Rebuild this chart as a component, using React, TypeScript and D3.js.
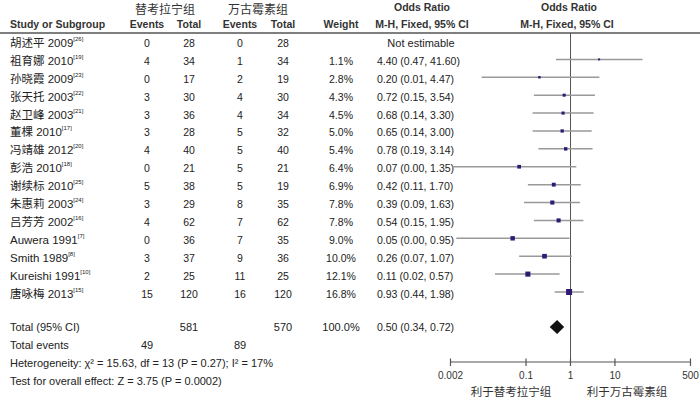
import * as d3 from "d3";

// study rows
const studies = [
  "胡述平 2009", "祖育娜 2010", "孙晓霞 2009", "张天托 2003", "赵卫峰 2003",
  "董棵 2010", "冯靖雄 2012", "彭浩 2010", "谢续标 2010", "朱惠莉 2003",
  "吕芳芳 2002", "Auwera 1991", "Smith 1989", "Kureishi 1991", "唐咏梅 2013",
];
const refs = ["26", "19", "23", "22", "21", "17", "20", "18", "25", "24", "16", "7", "8", "10", "15"];
const teicEvents = [0, 4, 0, 3, 3, 3, 4, 0, 5, 3, 4, 0, 3, 2, 15];
const teicTotal = [28, 34, 17, 30, 36, 28, 40, 21, 38, 29, 62, 36, 37, 25, 120];
const vancEvents = [0, 1, 2, 4, 4, 5, 5, 5, 5, 8, 7, 7, 9, 11, 16];
const vancTotal = [28, 34, 19, 30, 34, 32, 40, 21, 19, 35, 62, 35, 36, 25, 120];
const weights = [null, 1.1, 2.8, 4.3, 4.5, 5.0, 5.4, 6.4, 6.9, 7.8, 7.8, 9.0, 10.0, 12.1, 16.8];
const oddsRatio = [null, 4.4, 0.2, 0.72, 0.68, 0.65, 0.78, 0.07, 0.42, 0.39, 0.54, 0.05, 0.26, 0.11, 0.93];
const ciLow = [null, 0.47, 0.01, 0.15, 0.14, 0.14, 0.19, 0.0022, 0.11, 0.09, 0.15, 0.0027, 0.07, 0.02, 0.44];
const ciHigh = [null, 41.6, 4.47, 3.54, 3.3, 3.0, 3.14, 1.35, 1.7, 1.63, 1.95, 0.95, 1.07, 0.57, 1.98];

// pooled result
const pooled = { or: 0.5, lo: 0.34, hi: 0.72, weight: 100 };
const heterogeneity = "Heterogeneity: χ² = 15.63, df = 13 (P = 0.27); I² = 17%";
const overallEffect = "Test for overall effect: Z = 3.75 (P = 0.0002)";
const axisTicks = [0.002, 0.1, 1, 10, 500];
const favourLeft = "利于替考拉宁组";
const favourRight = "利于万古霉素组";

const W = 700;
const H = 399;
const bodyFont = "'Liberation Sans', 'Noto Sans CJK SC', sans-serif";
const headFont = "'Liberation Sans', 'Noto Sans CJK SC', sans-serif";
const cjkFont = "'Noto Sans CJK SC', sans-serif";
const txt = "#222";

const fmt2 = (v: number) => v.toFixed(2);
const ciText = (o: number, l: number, h: number) => `${fmt2(o)} (${fmt2(l)}, ${fmt2(h)})`;

export default function App() {
  const x = d3.scaleLog().domain([0.002, 500]).range([450.5, 690.5]);
  const y = d3.scaleLinear().domain([0, studies.length - 1]).range([41.5, 292]);
  const size = d3.scaleSqrt().domain([0, 16.8]).range([0, 6]);

  const totalY = 327;
  const eventsY = 345;
  const hetY = 363;
  const testY = 381;
  const axisY = 362;

  const col = { ev1: 147, tot1: 189, ev2: 240, tot2: 283, wt: 341, ci: 377, ciMid: 421 };

  const diamond = [
    [x(pooled.lo), totalY],
    [x(pooled.or), totalY - 7],
    [x(pooled.hi), totalY],
    [x(pooled.or), totalY + 7],
  ];

  return (
    <svg width={W} height={H} style={{ position: "absolute", left: 0, top: 0, background: "#fff" }}>
      {/* header */}
      <g fontFamily={cjkFont} fontSize={12} fill="#333" textAnchor="middle">
        <text x={165} y={8} dominantBaseline="central">替考拉宁组</text>
        <text x={258} y={8} dominantBaseline="central">万古霉素组</text>
      </g>
      <g fontFamily={headFont} fontSize={10.5} fontWeight="bold" fill="#333" textAnchor="middle">
        <text x={422} y={7} dominantBaseline="central">Odds Ratio</text>
        <text x={569} y={7} dominantBaseline="central">Odds Ratio</text>
        <text x={10} y={24} textAnchor="start" dominantBaseline="central">Study or Subgroup</text>
        <text x={col.ev1} y={24} dominantBaseline="central">Events</text>
        <text x={col.tot1} y={24} dominantBaseline="central">Total</text>
        <text x={col.ev2} y={24} dominantBaseline="central">Events</text>
        <text x={col.tot2} y={24} dominantBaseline="central">Total</text>
        <text x={col.wt} y={24} dominantBaseline="central">Weight</text>
        <text x={422} y={24} dominantBaseline="central">M-H, Fixed, 95% CI</text>
        <text x={567} y={24} dominantBaseline="central">M-H, Fixed, 95% CI</text>
      </g>
      <line x1={0} x2={W} y1={33} y2={33} stroke="#555" strokeWidth={1.3} />

      {/* null line */}
      <line x1={x(1)} x2={x(1)} y1={33} y2={axisY} stroke="#555" strokeWidth={1} />

      {/* study rows */}
      <g fontFamily={bodyFont} fontSize={10.5} fill={txt}>
        {studies.map((s, i) => {
          const ty = y(i) + 1.5;
          const w = weights[i];
          const o = oddsRatio[i];
          const l = ciLow[i];
          const h = ciHigh[i];
          return (
            <g key={s}>
              <text x={10} y={ty} dominantBaseline="central" fontSize={11.5}>
                {s}
                <tspan fontSize={6} dy={-4}>[{refs[i]}]</tspan>
              </text>
              <text x={col.ev1} y={ty} textAnchor="middle" dominantBaseline="central">{teicEvents[i]}</text>
              <text x={col.tot1} y={ty} textAnchor="middle" dominantBaseline="central">{teicTotal[i]}</text>
              <text x={col.ev2} y={ty} textAnchor="middle" dominantBaseline="central">{vancEvents[i]}</text>
              <text x={col.tot2} y={ty} textAnchor="middle" dominantBaseline="central">{vancTotal[i]}</text>
              {w !== null && (
                <text x={col.wt} y={ty} textAnchor="middle" dominantBaseline="central">{w.toFixed(1)}%</text>
              )}
              {o === null || l === null || h === null ? (
                <text x={col.ciMid} y={ty} textAnchor="middle" dominantBaseline="central" fontSize={11}>Not estimable</text>
              ) : (
                <text x={col.ci} y={ty} dominantBaseline="central">{ciText(o, l, h)}</text>
              )}
              {o !== null && l !== null && h !== null && w !== null && (
                <g>
                  <line x1={x(l)} x2={x(h)} y1={y(i)} y2={y(i)} stroke="#999" strokeWidth={1.5} />
                  <rect
                    x={x(o) - Math.max(2, size(w)) / 2}
                    y={y(i) - Math.max(2, size(w)) / 2}
                    width={Math.max(2, size(w))}
                    height={Math.max(2, size(w))}
                    fill="#2e1a72"
                  />
                </g>
              )}
            </g>
          );
        })}

        {/* totals */}
        <g fontSize={11}>
          <text x={10} y={totalY} dominantBaseline="central">Total (95% CI)</text>
          <text x={col.tot1} y={totalY} textAnchor="middle" dominantBaseline="central">{d3.sum(teicTotal)}</text>
          <text x={col.tot2} y={totalY} textAnchor="middle" dominantBaseline="central">{d3.sum(vancTotal)}</text>
          <text x={col.wt} y={totalY} textAnchor="middle" dominantBaseline="central">{pooled.weight.toFixed(1)}%</text>
          <text x={10} y={eventsY} dominantBaseline="central">Total events</text>
          <text x={col.ev1} y={eventsY} textAnchor="middle" dominantBaseline="central">{d3.sum(teicEvents)}</text>
          <text x={col.ev2} y={eventsY} textAnchor="middle" dominantBaseline="central">{d3.sum(vancEvents)}</text>
          <text x={10} y={hetY} dominantBaseline="central">{heterogeneity}</text>
          <text x={10} y={testY} dominantBaseline="central">{overallEffect}</text>
        </g>
        <text x={col.ci} y={totalY} dominantBaseline="central">{ciText(pooled.or, pooled.lo, pooled.hi)}</text>
      </g>

      <polygon points={diamond.map((p) => p.join(",")).join(" ")} fill="#111" />

      {/* axis */}
      <line x1={x(0.002)} x2={x(500)} y1={axisY} y2={axisY} stroke="#555" strokeWidth={1.2} />
      {axisTicks.map((t) => (
        <g key={t}>
          <line x1={x(t)} x2={x(t)} y1={axisY - 3.5} y2={axisY + 4} stroke="#555" strokeWidth={1.2} />
          <text
            x={x(t)}
            y={axisY + 13}
            textAnchor="middle"
            dominantBaseline="central"
            fontFamily={headFont}
            fontSize={10}
            fill="#333"
          >
            {t}
          </text>
        </g>
      ))}
      <g fontFamily={cjkFont} fontSize={11.5} fill="#333" textAnchor="middle">
        <text x={511} y={390.5} dominantBaseline="central">{favourLeft}</text>
        <text x={627} y={390.5} dominantBaseline="central">{favourRight}</text>
      </g>
    </svg>
  );
}
